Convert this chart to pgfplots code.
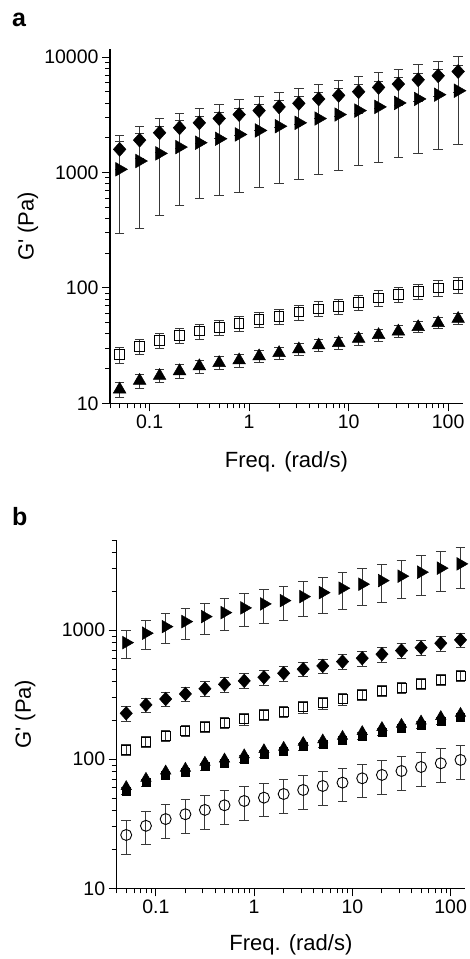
\documentclass[border=0pt]{standalone}
\usepackage{fontspec}
\setmainfont{Liberation Sans}
\usepackage{pgfplots}
\pgfplotsset{compat=1.18}
\usepackage{pgfplotstable}

\pgfplotstableread{
x      d     de    t     te    s     se    u     ue
0.05   1589  521   1067  773   26.4  4.3   13.2  2.0
0.0794 1910  583   1259  930   31.2  4.7   15.7  2.2
0.126  2213  709   1466  1038  35.2  5.3   17.3  2.3
0.2    2443  822   1662  1147  38.8  5.8   19.0  2.5
0.316  2698  907   1814  1217  42.3  6.3   21.0  2.7
0.5    2939  963   1963  1334  45.5  6.8   22.4  2.9
0.794  3183  1077  2139  1467  49.0  7.3   23.6  3.0
1.26   3443  1128  2316  1580  53.0  7.9   25.6  3.2
2.0    3707  1248  2520  1711  56.6  8.5   27.3  3.4
3.16   3981  1379  2698  1828  61.7  9.2   29.4  3.6
5.0    4345  1425  2938  1985  65.9  9.9   31.8  3.8
7.94   4667  1618  3183  2143  69.5  10.4  33.3  4.0
12.6   5020  1741  3443  2303  75.2  11.3  36.3  4.3
20.0   5470  1855  3707  2487  82.0  12.3  39.1  4.5
31.6   5850  2030  4012  2666  87.6  13.1  42.0  4.8
50.0   6370  2220  4345  2879  93.6  14.0  45.8  5.0
79.4   6900  2345  4730  3133  100   15.0  49.6  5.3
126    7515  2545  5120  3367  106   16.0  54.0  5.5
}\tableA

\pgfplotstableread{
x      r     re    d    de   s    se   ut    us    ue    c     ce
0.05   801   200   227  30   118  12   61.4  56.9  3.6   25.9  7.5
0.0794 948   243   264  34   137  14   71.2  66.0  4.1   30.5  8.8
0.126  1066  279   293  38   152  15   81.1  75.2  4.7   34.4  10.0
0.2    1166  312   321  42   167  17   85.1  78.9  5.0   37.5  10.9
0.316  1275  349   352  46   179  18   94.8  87.9  5.5   40.5  11.7
0.5    1369  382   381  50   192  19   100.4 93.1  5.9   44.0  12.8
0.794  1489  425   405  53   205  21   108.2 100.3 6.3   47.5  13.8
1.26   1599  466   432  56   220  22   118.5 109.8 6.9   50.4  14.6
2.0    1696  504   464  60   234  23   123.6 114.6 7.2   53.8  15.6
3.16   1822  552   499  65   253  25   134.9 125.1 7.9   57.8  16.8
5.0    1957  604   529  69   272  27   141.1 130.8 8.2   62.1  18.0
7.94   2116  666   571  74   292  29   150.4 139.4 8.8   65.9  19.1
12.6   2273  729   607  79   315  32   163.8 151.8 9.5   71.2  20.6
20.0   2424  791   652  85   340  34   176.1 163.3 10.3  75.6  21.9
31.6   2622  872   695  90   359  36   186.4 172.9 10.9  81.1  23.5
50.0   2815  952   733  95   384  38   197.8 183.4 11.5  87.1  25.3
79.4   3025  1041  793  103  412  41   214.2 198.6 12.5  93.1  27.0
126    3266  1143  841  109  443  44   226.6 210.1 13.2  98.8  28.7
}\tableB

\pgfplotsset{
  errstyle/.style={only marks,
    error bars/y dir=both, error bars/y explicit,
    error bars/error bar style={black!78, line width=1pt},
    error bars/error mark options={rotate=90, black!78, mark size=4.8pt, line width=1pt}},
}

\begin{document}
\begin{tikzpicture}
\useasboundingbox (0,0) rectangle (470pt,-959pt);
\node[anchor=base west, font=\bfseries\fontsize{25}{25}\selectfont, inner sep=0pt] at (12pt,-26.7pt) {a};
\node[anchor=base west, font=\bfseries\fontsize{25}{25}\selectfont, inner sep=0pt] at (12pt,-525pt) {b};

\begin{axis}[
  scale only axis, xmode=log, ymode=log,
  axis lines=left, axis line style={-, line width=1.1pt, black},
  tick align=outside, major tick length=8pt, minor tick length=5pt,
  tick style={black, line width=0.9pt},
  xmin=0.04, xmax=140,
  xtick={0.1,1,10,100}, xticklabels={0.1,1,10,100},
  minor xtick={0.04,0.05,0.06,0.07,0.08,0.09,0.2,0.3,0.4,0.5,0.6,0.7,0.8,0.9,2,3,4,5,6,7,8,9,20,30,40,50,60,70,80,90},
  tick label style={font=\fontsize{19.5}{20}\selectfont},
  label style={font=\fontsize{22}{24}\selectfont},
  xlabel={Freq. (rad/s)},
  ylabel={G\textquotesingle{} (Pa)},
  clip=false,
  at={(110pt,-403.3pt)}, anchor=south west,
  width=352.7pt, height=354pt,
  ymin=10, ymax=11700,
  ytick={10,100,1000,10000}, yticklabels={10,100,1000,10000},
  minor ytick={20,30,40,50,60,70,80,90,200,300,400,500,600,700,800,900,2000,3000,4000,5000,6000,7000,8000,9000},
  ylabel style={at={(axis description cs:-0.2325,0.5)}, anchor=center},
  xlabel style={at={(axis description cs:0.5,0)}, anchor=base, yshift=-64pt},
]
\addplot[errstyle, mark=triangle*, mark size=7.8pt, mark options={rotate=-90, fill=black, draw=black, line width=0.5pt}]
  table[x=x, y=t, y error=te] {\tableA};
\addplot[errstyle, mark=diamond*, mark size=7pt, mark options={xscale=1.2, fill=black, draw=black, line width=0.5pt}]
  table[x=x, y=d, y error=de] {\tableA};
\addplot[errstyle, mark=square, mark size=4.8pt, mark options={draw=black, fill=white, line width=0.9pt}]
  table[x=x, y=s, y error=se] {\tableA};
\addplot[errstyle, mark=triangle*, mark size=7.3pt, mark options={fill=black, draw=black, line width=0.5pt}]
  table[x=x, y=u, y error=ue] {\tableA};
\end{axis}

\begin{axis}[
  scale only axis, xmode=log, ymode=log,
  axis lines=left, axis line style={-, line width=1.1pt, black},
  tick align=outside, major tick length=8pt, minor tick length=5pt,
  tick style={black, line width=0.9pt},
  xmin=0.04, xmax=140,
  xtick={0.1,1,10,100}, xticklabels={0.1,1,10,100},
  minor xtick={0.04,0.05,0.06,0.07,0.08,0.09,0.2,0.3,0.4,0.5,0.6,0.7,0.8,0.9,2,3,4,5,6,7,8,9,20,30,40,50,60,70,80,90},
  tick label style={font=\fontsize{19.5}{20}\selectfont},
  label style={font=\fontsize{22}{24}\selectfont},
  xlabel={Freq. (rad/s)},
  ylabel={G\textquotesingle{} (Pa)},
  clip=false,
  at={(116.7pt,-888.3pt)}, anchor=south west,
  width=348.3pt, height=348.3pt,
  ymin=10, ymax=5000,
  ytick={10,100,1000}, yticklabels={10,100,1000},
  minor ytick={20,30,40,50,60,70,80,90,200,300,400,500,600,700,800,900,2000,3000,4000,5000},
  ylabel style={at={(axis description cs:-0.263,0.5)}, anchor=center},
  xlabel style={at={(axis description cs:0.5,0)}, anchor=base, yshift=-62.4pt},
]
\addplot[errstyle, mark=triangle*, mark size=7.3pt, mark options={rotate=-90, fill=black, draw=black, line width=0.5pt}]
  table[x=x, y=r, y error=re] {\tableB};
\addplot[errstyle, mark=diamond*, mark size=6.8pt, mark options={xscale=1.2, fill=black, draw=black, line width=0.5pt}]
  table[x=x, y=d, y error=de] {\tableB};
\addplot[errstyle, mark=square, mark size=4.5pt, mark options={draw=black, fill=white, line width=0.9pt}]
  table[x=x, y=s, y error=se] {\tableB};
\addplot[errstyle, mark=square*, mark size=4pt, mark options={fill=black, draw=black, line width=0.5pt}]
  table[x=x, y=us, y error=ue] {\tableB};
\addplot[only marks, mark=triangle*, mark size=6pt, mark options={fill=black, draw=black, line width=0.5pt}]
  table[x=x, y=ut] {\tableB};
\addplot[errstyle, mark=o, mark size=5.5pt, mark options={draw=black, fill=white, line width=0.9pt}]
  table[x=x, y=c, y error=ce] {\tableB};
\end{axis}
\end{tikzpicture}
\end{document}
